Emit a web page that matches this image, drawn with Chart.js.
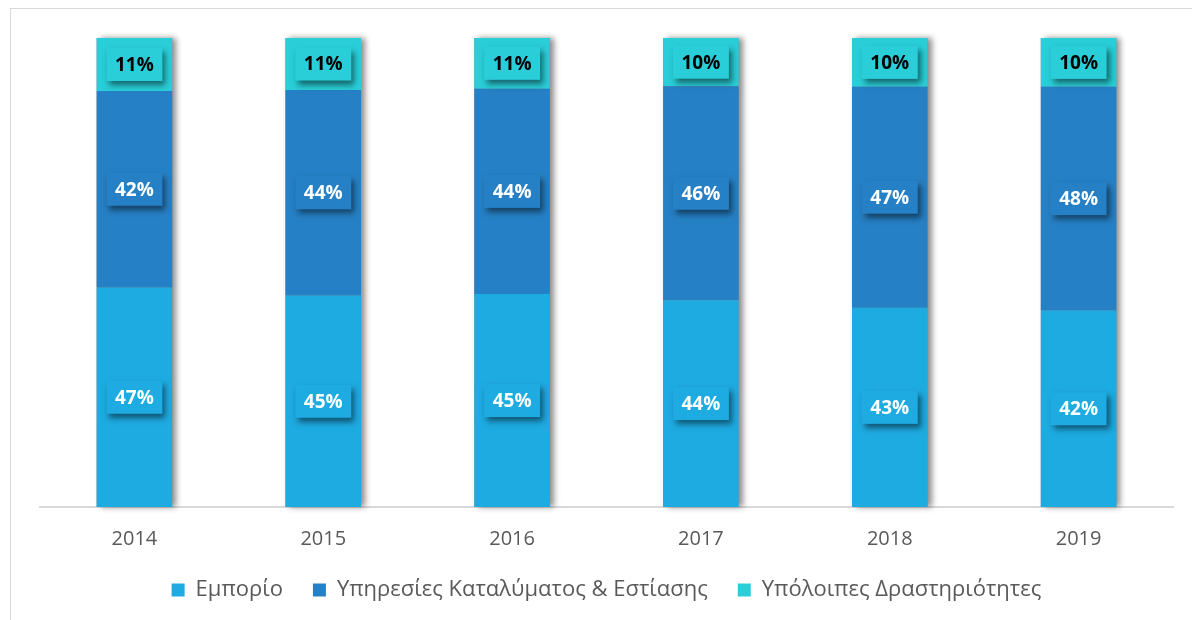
<!DOCTYPE html>
<html>
<head>
<meta charset="utf-8">
<script src="https://cdn.jsdelivr.net/npm/chart.js@4.4.0/dist/chart.umd.min.js"></script>
<style>
  html, body { margin: 0; padding: 0; background: #ffffff; }
  #wrap { position: relative; width: 1192px; height: 620px; overflow: hidden; }
  #frame { position: absolute; left: 10px; top: 8px; width: 1200px; height: 640px; border: 1px solid #d9d9d9; box-sizing: border-box; pointer-events: none; }
  canvas { position: absolute; left: 0; top: 0; }
</style>
</head>
<body>
<div id="wrap">
  <canvas id="chart" width="1192" height="620"></canvas>
  <div id="frame"></div>
</div>
<script>
// ===== Data =====
const years = ['2014', '2015', '2016', '2017', '2018', '2019'];
const emporio = [46.8, 45.1, 45.4, 44.1, 42.5, 41.9];
const ypiresies = [41.9, 43.8, 43.8, 45.6, 47.1, 47.7];
const ypoloipes = [11.3, 11.1, 10.8, 10.3, 10.4, 10.4];
const seriesNames = ['Εμπορίο', 'Υπηρεσίες Καταλύματος & Εστίασης', 'Υπόλοιπες Δραστηριότητες'];

const colors = {
  emporio: '#1eabe2',
  ypiresies: '#2680c5',
  ypoloipes: '#29ced8',
  text: '#595959',
  axis: '#d9d9d9',
};

const fontFamily = "'Open Sans', 'DejaVu Sans', sans-serif";

// ===== Bar shadow (drawn behind whole stack) =====
const barShadow = {
  id: 'barShadow',
  beforeDatasetsDraw(chart) {
    const ctx = chart.ctx;
    const first = chart.getDatasetMeta(0).data;
    const last = chart.getDatasetMeta(chart.data.datasets.length - 1).data;
    ctx.save();
    ctx.shadowColor = 'rgba(0,0,0,0.45)';
    ctx.shadowOffsetX = 4;
    ctx.shadowOffsetY = 0;
    ctx.shadowBlur = 6;
    ctx.fillStyle = '#888';
    first.forEach((el, i) => {
      const top = last[i].y;
      const bottom = el.base;
      ctx.fillRect(el.x - el.width / 2, top, el.width, bottom - top);
    });
    ctx.restore();
  }
};

// ===== Value labels in shadowed boxes =====
const valueLabels = {
  id: 'valueLabels',
  afterDatasetsDraw(chart) {
    const ctx = chart.ctx;
    chart.data.datasets.forEach((ds, di) => {
      const meta = chart.getDatasetMeta(di);
      meta.data.forEach((el, i) => {
        const cx = el.x;
        const cy = (el.y + el.base) / 2;
        const w = 56, h = 33;
        ctx.save();
        ctx.shadowColor = 'rgba(0,0,0,0.5)';
        ctx.shadowOffsetX = 3;
        ctx.shadowOffsetY = 4;
        ctx.shadowBlur = 6;
        ctx.fillStyle = ds.backgroundColor;
        ctx.fillRect(cx - w / 2, cy - h / 2, w, h);
        ctx.restore();
        ctx.save();
        ctx.font = `700 19px ${fontFamily}`;
        ctx.fillStyle = ds.labelColor;
        ctx.textAlign = 'center';
        ctx.textBaseline = 'middle';
        ctx.fillText(Math.round(ds.data[i]) + '%', cx, cy + 1);
        ctx.restore();
      });
    });
  }
};

new Chart(document.getElementById('chart'), {
  type: 'bar',
  data: {
    labels: years,
    datasets: [
      { label: seriesNames[0], data: emporio, backgroundColor: colors.emporio, labelColor: '#ffffff' },
      { label: seriesNames[1], data: ypiresies, backgroundColor: colors.ypiresies, labelColor: '#ffffff' },
      { label: seriesNames[2], data: ypoloipes, backgroundColor: colors.ypoloipes, labelColor: '#000000' },
    ]
  },
  options: {
    responsive: false,
    animation: false,
    devicePixelRatio: 1,
    datasets: { bar: { categoryPercentage: 1, barPercentage: 0.4, borderWidth: 0 } },
    layout: { padding: { top: 38, left: 40, right: 19, bottom: 9 } },
    plugins: {
      tooltip: { enabled: false },
      legend: {
        position: 'bottom',
        labels: {
          color: colors.text,
          font: { family: fontFamily, size: 22 },
          boxWidth: 13,
          boxHeight: 13,
          padding: 30,
        }
      }
    },
    scales: {
      x: {
        stacked: true,
        grid: { display: false, drawTicks: false },
        border: { display: true, color: colors.axis, width: 2 },
        ticks: { color: colors.text, font: { family: fontFamily, size: 20 }, padding: 20 },
        // let the tick labels sit in the legend's top padding
        afterFit: (scale) => { scale.height -= 22; }
      },
      y: {
        stacked: true,
        display: false,
        min: 0,
        max: 100
      }
    }
  },
  plugins: [barShadow, valueLabels]
});
</script>
</body>
</html>
